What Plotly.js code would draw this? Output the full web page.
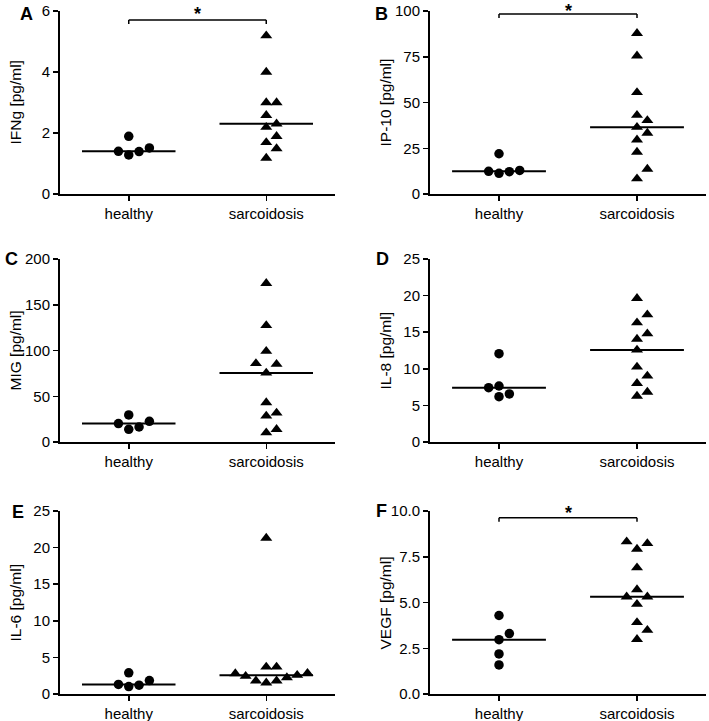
<!DOCTYPE html>
<html>
<head>
<meta charset="utf-8">
<script src="https://cdn.plot.ly/plotly-3.0.1.min.js"></script>
<style>html,body{margin:0;padding:0;background:#fff;}</style>
</head>
<body>
<div id="chart" style="width:709px;height:721px;"></div>
<script>
// ---- data ----
const groups = ['healthy', 'sarcoidosis'];

const ifng_healthy = [1.89, 1.51, 1.40, 1.39, 1.28];
const ifng_sarc    = [5.19, 4.0, 3.0, 3.0, 2.58, 2.30, 2.19, 1.89, 1.69, 1.49, 1.18];

const ip10_healthy = [22.0, 12.9, 12.4, 12.2, 11.3];
const ip10_sarc    = [87.8, 75.5, 55.5, 43.1, 40.2, 36.5, 33.3, 29.6, 22.9, 13.6, 8.4];

const mig_healthy  = [29.6, 22.6, 20.1, 16.4, 13.9];
const mig_sarc     = [173.4, 127.4, 99.3, 85.8, 85.0, 75.5, 43.1, 31.8, 28.5, 13.9, 10.2];

const il8_healthy  = [12.07, 7.65, 7.42, 6.56, 6.19];
const il8_sarc     = [19.63, 17.4, 16.3, 14.8, 14.07, 12.57, 10.25, 9.02, 8.01, 6.83, 6.28];

const il6_healthy  = [2.89, 1.84, 1.30, 1.20, 1.02];
const il6_sarc     = [21.3, 3.7, 3.7, 2.84, 2.8, 2.57, 2.43, 2.25, 1.8, 1.8, 1.53];

const vegf_healthy = [4.29, 3.30, 2.97, 2.19, 1.59];
const vegf_sarc    = [8.32, 8.23, 7.92, 6.90, 5.71, 5.31, 5.31, 4.91, 3.91, 3.49, 2.99];

const yTicksA = [0, 2, 4, 6];
const yTicksB = [0, 25, 50, 75, 100];
const yTicksC = [0, 50, 100, 150, 200];
const yTicksD = [0, 5, 10, 15, 20, 25];
const yTicksE = [0, 5, 10, 15, 20, 25];
const yTicksF = [0, 2.5, 5, 7.5, 10];

const panelLabels = ['A', 'B', 'C', 'D', 'E', 'F'];
const yTitles = ['IFNg [pg/ml]', 'IP-10 [pg/ml]', 'MIG [pg/ml]', 'IL-8 [pg/ml]', 'IL-6 [pg/ml]', 'VEGF [pg/ml]'];
const significant = [true, true, false, false, false, true];

// ---- layout constants ----
const W = 709, H = 721;
const FONT = 'Liberation Sans, Arial, Helvetica, sans-serif';
const colX = [[60, 335], [430, 706]];
const rowY = [[11, 194], [259, 442], [511, 694]];
const letterX = [26, 381, 11, 382, 18, 381];
const letterY = [14, 14, 259, 259, 512, 511];
const bracketPx = {0: 20, 1: 14, 5: 517.7};
const starBoxTopPx = {0: 2.5, 1: 0, 5: 501.5};

const panels = [
  {h: ifng_healthy, s: ifng_sarc, ticks: yTicksA, fmt: ''},
  {h: ip10_healthy, s: ip10_sarc, ticks: yTicksB, fmt: ''},
  {h: mig_healthy,  s: mig_sarc,  ticks: yTicksC, fmt: ''},
  {h: il8_healthy,  s: il8_sarc,  ticks: yTicksD, fmt: ''},
  {h: il6_healthy,  s: il6_sarc,  ticks: yTicksE, fmt: ''},
  {h: vegf_healthy, s: vegf_sarc, ticks: yTicksF, fmt: '.1f'}
];

function median(arr) {
  const a = arr.slice().sort((p, q) => p - q);
  const n = a.length;
  return n % 2 ? a[(n - 1) / 2] : (a[n / 2 - 1] + a[n / 2]) / 2;
}

// column-scatter spreading: ascending order, place each point in the first free slot 0,+1,-1,+2,-2...
function spreadSlots(values, pxPerUnit, thrPx) {
  const order = values.map((v, i) => i).sort((a, b) => values[a] - values[b]);
  const placed = [];
  const out = new Array(values.length).fill(0);
  for (const i of order) {
    const v = values[i];
    for (let k = 0; k < 60; k++) {
      const s = k === 0 ? 0 : (k % 2 === 1 ? (k + 1) / 2 : -(k / 2));
      const hit = placed.some(p => p.s === s && Math.abs(p.v - v) * pxPerUnit < thrPx);
      if (!hit) { out[i] = s; placed.push({s: s, v: v}); break; }
    }
  }
  return out;
}

const SLOT = 0.075;   // horizontal slot width in category units
const HALF = 0.34;    // half width of median line
const traces = [];
const layout = {
  width: W, height: H,
  margin: {l: 0, r: 0, t: 0, b: 0},
  paper_bgcolor: '#ffffff', plot_bgcolor: '#ffffff',
  showlegend: false,
  font: {family: FONT, color: '#000000', size: 15},
  shapes: [], annotations: []
};

panels.forEach((p, i) => {
  const n = i + 1;
  const col = i % 2, row = Math.floor(i / 2);
  const xa = 'x' + (n === 1 ? '' : n), ya = 'y' + (n === 1 ? '' : n);
  const xKey = 'xaxis' + (n === 1 ? '' : n), yKey = 'yaxis' + (n === 1 ? '' : n);
  const ymax = p.ticks[p.ticks.length - 1];
  const plotH = rowY[row][1] - rowY[row][0];
  const pxPerUnit = plotH / ymax;

  layout[xKey] = {
    domain: [colX[col][0] / W, colX[col][1] / W],
    anchor: ya, range: [-0.5, 1.5],
    tickmode: 'array', tickvals: [0, 1], ticktext: groups,
    showline: true, linecolor: '#000', linewidth: 2,
    ticks: 'outside', ticklen: 5, tickwidth: 1.5, tickcolor: '#000',
    showgrid: false, zeroline: false, fixedrange: true,
    tickfont: {family: FONT, size: 15, color: '#000'}
  };
  layout[yKey] = {
    domain: [1 - rowY[row][1] / H, 1 - rowY[row][0] / H],
    anchor: xa, range: [0, ymax],
    tickmode: 'array', tickvals: p.ticks, tickformat: p.fmt,
    showline: true, linecolor: '#000', linewidth: 2,
    ticks: 'outside', ticklen: 5, tickwidth: 1.5, tickcolor: '#000',
    showgrid: false, zeroline: false, fixedrange: true,
    tickfont: {family: FONT, size: 15, color: '#000'}
  };

  [[p.h, 0, 'circle', 9.5], [p.s, 1, 'triangle-up', 10.5]].forEach(([vals, c, sym, size]) => {
    const sl = spreadSlots(vals, pxPerUnit, 10);
    traces.push({
      type: 'scatter', mode: 'markers', xaxis: xa, yaxis: ya,
      x: vals.map((v, k) => c + sl[k] * SLOT), y: vals,
      marker: {symbol: sym, size: size, color: '#000', line: {width: 0}},
      cliponaxis: false, hoverinfo: 'y'
    });
    const m = median(vals);
    traces.push({
      type: 'scatter', mode: 'lines', xaxis: xa, yaxis: ya,
      x: [c - HALF, c + HALF], y: [m, m],
      line: {color: '#000', width: 2}, hoverinfo: 'skip', cliponaxis: false
    });
  });

  // panel letter
  layout.annotations.push({
    xref: 'paper', yref: 'paper',
    x: letterX[i] / W, y: 1 - letterY[i] / H,
    text: '<b>' + panelLabels[i] + '</b>', showarrow: false,
    xanchor: 'center', yanchor: 'middle',
    font: {family: FONT, size: 18, color: '#000'}
  });
  // y title
  layout.annotations.push({
    xref: xa + ' domain', yref: ya + ' domain', x: 0, y: 0.5, xshift: -45,
    text: yTitles[i], showarrow: false, textangle: -90,
    xanchor: 'center', yanchor: 'middle',
    font: {family: FONT, size: 15.5, color: '#000'}
  });

  if (significant[i]) {
    const yb = (rowY[row][1] - bracketPx[i]) / plotH;
    const ye = yb - 4 / plotH;
    const ln = {color: '#000', width: 1.5};
    layout.shapes.push({type: 'line', xref: xa, yref: ya + ' domain', x0: 0, x1: 1, y0: yb, y1: yb, line: ln});
    layout.shapes.push({type: 'line', xref: xa, yref: ya + ' domain', x0: 0, x1: 0, y0: ye, y1: yb, line: ln});
    layout.shapes.push({type: 'line', xref: xa, yref: ya + ' domain', x0: 1, x1: 1, y0: ye, y1: yb, line: ln});
    layout.annotations.push({
      xref: xa, yref: 'paper', x: 0.5, y: 1 - starBoxTopPx[i] / H,
      text: '<b>*</b>', showarrow: false, xanchor: 'center', yanchor: 'top',
      borderpad: 0,
      font: {family: FONT, size: 18, color: '#000'}
    });
  }
});

Plotly.newPlot('chart', traces, layout, {displayModeBar: false, staticPlot: true});
</script>
</body>
</html>
